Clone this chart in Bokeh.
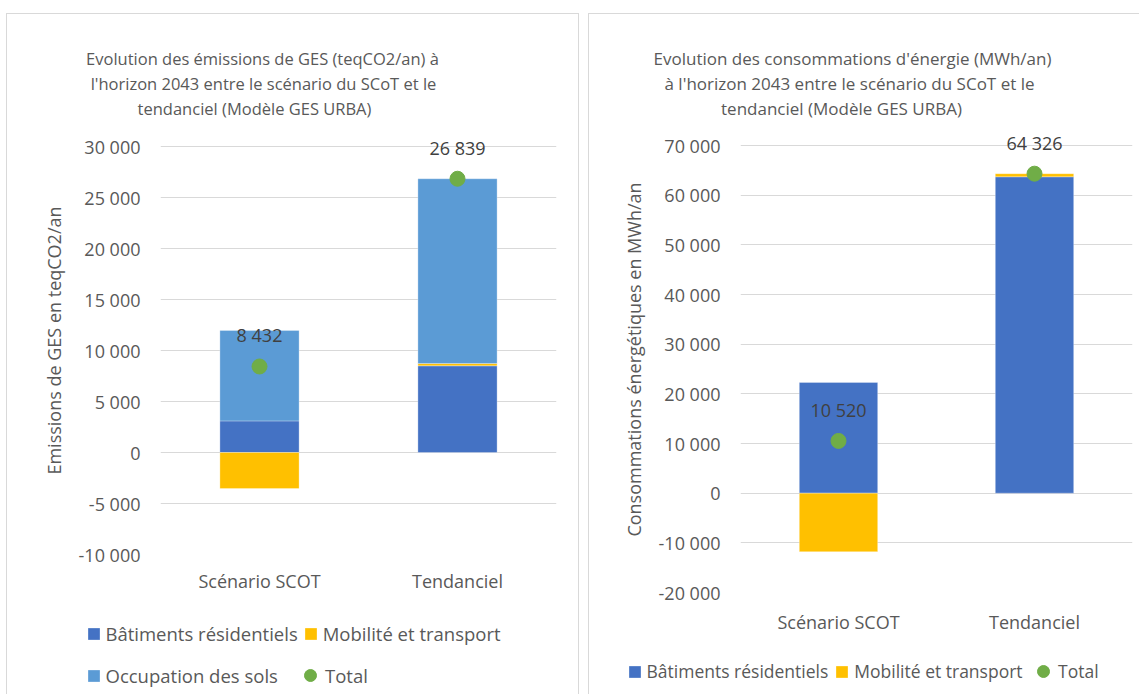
from bokeh.plotting import figure
from bokeh.layouts import row, column
from bokeh.models import (ColumnDataSource, Label, LabelSet, Legend, LegendItem,
                          FixedTicker, Range1d)
from bokeh.core.properties import value
from bokeh.embed import file_html
from bokeh.resources import INLINE

# ---------------- data ----------------
categories = ["Scénario SCOT", "Tendanciel"]

# Left chart: GES emissions (teqCO2/an)
ges_batiments = [3100, 8500]
ges_mobilite = [-3538, 220]
ges_occupation = [8870, 18119]
ges_total = [8432, 26839]
ges_total_labels = ["8 432", "26 839"]
ges_ticks = [-10000, -5000, 0, 5000, 10000, 15000, 20000, 25000, 30000]
ges_tick_labels = ["-10 000", "-5 000", "0", "5 000", "10 000", "15 000",
                   "20 000", "25 000", "30 000"]
ges_axis = (-10000, 30000)
ges_title = ["Evolution des émissions de GES (teqCO2/an) à",
             "l'horizon 2043 entre le scénario du SCoT et le",
             "tendanciel (Modèle GES URBA)"]
ges_ylabel = "Emissions de GES en teqCO2/an"

# Right chart: energy consumption (MWh/an)
ener_batiments = [22300, 63700]
ener_mobilite = [-11780, 626]
ener_total = [10520, 64326]
ener_total_labels = ["10 520", "64 326"]
ener_ticks = [-20000, -10000, 0, 10000, 20000, 30000, 40000, 50000, 60000, 70000]
ener_tick_labels = ["-20 000", "-10 000", "0", "10 000", "20 000", "30 000",
                    "40 000", "50 000", "60 000", "70 000"]
ener_axis = (-20000, 70000)
ener_title = ["Evolution des consommations d'énergie (MWh/an)",
              "à l'horizon 2043 entre le scénario du SCoT et le",
              "tendanciel (Modèle GES URBA)"]
ener_ylabel = "Consommations énergétiques en MWh/an"

series_names = ["Bâtiments résidentiels", "Mobilité et transport", "Occupation des sols"]
total_name = "Total"

# ---------------- styles ----------------
FONT = "Open Sans"
TXT = "#595959"
LBL = "#404040"
GRID = "#d9d9d9"
BORDER = "1px solid #d9d9d9"
COL_BAT = "#4472C4"
COL_MOB = "#FFC000"
COL_OCC = "#5B9BD5"
COL_TOT = "#70AD47"
BAR_W = 0.4


def stack(series_list):
    n = len(categories)
    pos = [0.0] * n
    neg = [0.0] * n
    out = []
    for vals in series_list:
        b, t = [], []
        for i, v in enumerate(vals):
            if v >= 0:
                b.append(pos[i]); t.append(pos[i] + v); pos[i] += v
            else:
                b.append(neg[i]); t.append(neg[i] + v); neg[i] += v
        out.append((b, t))
    return out


def blank(width, height):
    f = figure(width=width, height=height, x_range=Range1d(0, 1), y_range=Range1d(0, 1),
               x_axis_location=None, y_axis_location=None, min_border=0,
               toolbar_location=None, output_backend="svg",
               background_fill_color="white", border_fill_color="white")
    f.outline_line_color = None
    f.grid.visible = False
    try:
        f.frame_align = False
    except Exception:
        pass
    return f


def title_fig(width, height, lines, places, size):
    f = blank(width, height)
    for line, (x, y) in zip(lines, places):
        f.add_layout(Label(x=x, y=y, x_units="screen", y_units="screen", text=line,
                           text_align="center", text_baseline="alphabetic",
                           text_font=FONT, text_font_size=size, text_color=TXT))
    return f


def chart_fig(width, height, mb, axis_lim, frame_extra_top, ticks, tick_labels, ylabel,
              series, colors, totals, total_labels, xstand):
    mb_left, mb_right, mb_top, mb_bottom = mb
    frame_h = height - mb_top - mb_bottom
    axis_h = frame_h - frame_extra_top
    y_end = axis_lim[1] + frame_extra_top * (axis_lim[1] - axis_lim[0]) / axis_h
    p = figure(x_range=categories, y_range=Range1d(axis_lim[0], y_end),
               width=width, height=height,
               output_backend="svg", toolbar_location=None,
               min_border_left=mb_left, min_border_right=mb_right,
               min_border_top=mb_top, min_border_bottom=mb_bottom,
               background_fill_color="white", border_fill_color="white")
    p.outline_line_color = None
    p.xgrid.grid_line_color = None
    p.ygrid.grid_line_color = GRID
    p.ygrid.grid_line_width = 1

    p.yaxis.ticker = FixedTicker(ticks=ticks)
    p.yaxis.major_label_overrides = {t: l for t, l in zip(ticks, tick_labels)}
    p.yaxis.axis_line_color = None
    p.yaxis.major_tick_line_color = None
    p.yaxis.minor_tick_line_color = None
    p.yaxis.major_tick_out = 0
    p.yaxis.major_tick_in = 0
    p.yaxis.major_label_standoff = 20
    p.yaxis.major_label_text_font = FONT
    p.yaxis.major_label_text_font_size = "18px"
    p.yaxis.major_label_text_color = TXT
    p.yaxis.axis_label = ylabel
    p.yaxis.axis_label_text_font = FONT
    p.yaxis.axis_label_text_font_size = "18px"
    p.yaxis.axis_label_text_font_style = "normal"
    p.yaxis.axis_label_text_color = TXT
    p.yaxis.axis_label_standoff = 10

    p.xaxis.axis_line_color = None
    p.xaxis.major_tick_line_color = None
    p.xaxis.major_tick_out = 0
    p.xaxis.major_tick_in = 0
    p.xaxis.major_label_standoff = xstand
    p.xaxis.major_label_text_font = FONT
    p.xaxis.major_label_text_font_size = "18px"
    p.xaxis.major_label_text_color = TXT

    for (b, t), c in zip(stack(series), colors):
        src = ColumnDataSource(dict(cat=categories, bottom=b, top=t))
        p.vbar(x="cat", bottom="bottom", top="top", width=BAR_W, source=src,
               fill_color=c, line_color="white", line_alpha=0.3, line_width=1)

    tsrc = ColumnDataSource(dict(cat=categories, total=totals, label=total_labels))
    p.scatter(x="cat", y="total", source=tsrc, size=15, marker="circle",
              fill_color=COL_TOT, line_color=COL_TOT)
    p.add_layout(LabelSet(x="cat", y="total", text="label", source=tsrc,
                          y_offset=24, text_align="center", text_baseline="alphabetic",
                          text_font=value(FONT), text_font_size=value("18px"),
                          text_color=LBL))
    return p


def legend_fig(width, height, names, colors, font_size, spacing, item_h,
               loc_main, loc_tot, ncols):
    f = blank(width, height)
    # legend swatches: one hidden sample each, placed outside the visible range
    hidden = dict(x=[-1.0], y=[-1.0])
    items = []
    for n, c in zip(names, colors):
        r = f.vbar(x=hidden["x"], top=hidden["y"], bottom=hidden["y"], width=BAR_W,
                   fill_color=c, line_color="white", line_alpha=0.3, line_width=1)
        items.append(LegendItem(label=n, renderers=[r]))
    rt = f.scatter(x=hidden["x"], y=hidden["y"], size=15, marker="circle",
                   fill_color=COL_TOT, line_color=COL_TOT)
    common = dict(border_line_color=None, background_fill_alpha=0, padding=0, margin=0,
                  label_height=item_h, label_text_font=FONT, label_text_font_size=font_size,
                  label_text_color=TXT, orientation="horizontal")
    lg = Legend(items=items, location=loc_main, ncols=ncols, spacing=spacing,
                glyph_width=15, glyph_height=15, label_standoff=5, **common)
    f.add_layout(lg)
    lt = Legend(items=[LegendItem(label=total_name, renderers=[rt])], location=loc_tot,
                spacing=0, glyph_width=30, glyph_height=30, label_standoff=0, **common)
    try:
        lt.label_standoff = -4
    except Exception:
        pass
    f.add_layout(lt)
    return f


# ---------------- layout (page pixels) ----------------
TOP = 14            # inner top of both panels
TITLE_H = 110
CHART_TOP = TOP + TITLE_H
BOTTOM = 694

# Left panel: inner x 7..578, frame x 160..556, axis 30000 at y=146, -10000 at y=554
L_X0, L_W = 7, 571
L_FRAME_BOTTOM = 554
MB_TOP, MB_BOTTOM = 2, 46
l_chart_h = L_FRAME_BOTTOM + MB_BOTTOM - CHART_TOP
l_title = title_fig(L_W, TITLE_H, ges_title,
                    [(262 - L_X0, CHART_TOP - 58.3), (263 - L_X0, CHART_TOP - 83.3),
                     (254 - L_X0, CHART_TOP - 108.3)], "16.5px")
l_chart = chart_fig(L_W, l_chart_h, (160 - L_X0, L_X0 + L_W - 556, MB_TOP, MB_BOTTOM),
                    ges_axis, 146 - (CHART_TOP + MB_TOP), ges_ticks, ges_tick_labels,
                    ges_ylabel, [ges_batiments, ges_mobilite, ges_occupation],
                    [COL_BAT, COL_MOB, COL_OCC], ges_total, ges_total_labels, 14)
l_leg_top = CHART_TOP + l_chart_h
l_leg_h = BOTTOM - l_leg_top
l_legend = legend_fig(L_W, l_leg_h, series_names, [COL_BAT, COL_MOB, COL_OCC], "18.5px",
                      5, 37, (85.5 - L_X0, BOTTOM - 693.5), (295 - L_X0, BOTTOM - 693.5), 2)
left = column(l_title, l_chart, l_legend, spacing=0,
              styles={"border-left": BORDER, "border-top": BORDER, "border-right": BORDER})

# Right panel: inner x 589..1139, frame x 740..1132, axis 70000 at y=145, -20000 at y=592
R_X0, R_W = 589, 550
R_FRAME_BOTTOM = 592
r_chart_h = R_FRAME_BOTTOM + MB_BOTTOM - CHART_TOP
r_title = title_fig(R_W, TITLE_H, ener_title,
                    [(852 - R_X0, CHART_TOP - 58.3), (849 - R_X0, CHART_TOP - 83.3),
                     (841 - R_X0, CHART_TOP - 108.3)], "17px")
r_chart = chart_fig(R_W, r_chart_h, (740 - R_X0, R_X0 + R_W - 1132, MB_TOP, MB_BOTTOM),
                    ener_axis, 145 - (CHART_TOP + MB_TOP), ener_ticks, ener_tick_labels,
                    ener_ylabel, [ener_batiments, ener_mobilite], [COL_BAT, COL_MOB],
                    ener_total, ener_total_labels, 17)
r_leg_top = CHART_TOP + r_chart_h
r_leg_h = BOTTOM - r_leg_top
r_legend = legend_fig(R_W, r_leg_h, series_names[:2], [COL_BAT, COL_MOB], "17.5px", 6, 35,
                      (626.5 - R_X0, BOTTOM - 688.5), (1028 - R_X0, BOTTOM - 688.5), 2)
right = column(r_title, r_chart, r_legend, spacing=0,
               styles={"border-left": BORDER, "border-top": BORDER})

layout = row(left, right, spacing=9, margin=(13, 0, 0, 6))
open("out.html", "w").write(file_html(layout, INLINE))
